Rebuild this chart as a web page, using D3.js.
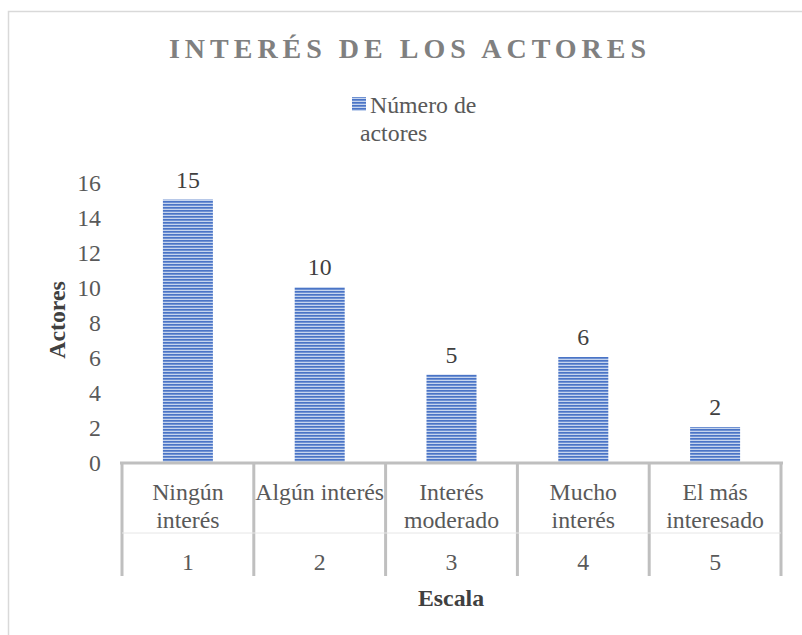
<!DOCTYPE html>
<html><head><meta charset="utf-8">
<script src="https://cdn.jsdelivr.net/npm/d3@7"></script>
<style>body{margin:0;background:#fff}svg{display:block}</style>
</head><body>
<script>
const categories = ["Ningún interés","Algún interés","Interés moderado","Mucho interés","El más interesado"];
const catLines = [["Ningún","interés"],["Algún interés"],["Interés","moderado"],["Mucho","interés"],["El más","interesado"]];
const scaleLabels = ["1","2","3","4","5"];
const values = [15,10,5,6,2];
const yTicks = [0,2,4,6,8,10,12,14,16];
const seriesName = ["Número de","actores"];

const W=802,H=635;
const FF='"Liberation Serif", "Times New Roman", serif';
const FS=23.8;
const svg=d3.select("body").append("svg").attr("width",W).attr("height",H);
const defs=svg.append("defs");
const pat=defs.append("pattern").attr("id","stripe").attr("patternUnits","userSpaceOnUse").attr("width",6).attr("height",3);
pat.append("rect").attr("width",6).attr("height",3).attr("fill","#c5d4ee");
pat.append("rect").attr("y",0).attr("width",6).attr("height",1.7).attr("fill","#4a74c6");

// frame
svg.append("path").attr("d","M8.5,635 V11.5 H802").attr("fill","none").attr("stroke","#d9d9d9").attr("stroke-width",1.5);

const x0=122,x1=781,yTop=182,yBot=462;
const x=d3.scaleBand().domain(categories).range([x0,x1]);
const y=d3.scaleLinear().domain([0,16]).range([yBot,yTop]);
const bw=50;

function T(sel){return sel.style("font-family",FF);}

T(svg.append("text")).attr("x",410).attr("y",58).attr("text-anchor","middle")
 .attr("font-weight","bold").attr("font-size",28).attr("letter-spacing",5)
 .attr("fill","#808080").text("INTERÉS DE LOS ACTORES");

// legend
svg.append("rect").attr("x",352).attr("y",97).attr("width",14).attr("height",14).attr("fill","url(#stripe)");
T(svg.append("text")).attr("font-size",FS).attr("fill","#595959")
 .selectAll("tspan").data(seriesName).join("tspan").attr("x",d=>d==="actores"?360:370).attr("y",(d,i)=>113+i*28).text(d=>d);

// y axis labels
const ya=svg.append("g").attr("transform",`translate(101,0)`).call(d3.axisLeft(y).tickValues(yTicks).tickSize(0).tickPadding(0));
ya.select(".domain").remove();
ya.attr("font-family",null).attr("font-size",null);
T(ya.selectAll("text")).attr("font-size",FS).attr("fill","#595959").attr("dy","0.35em");

T(svg.append("text")).attr("transform","translate(65,320) rotate(-90)").attr("text-anchor","middle")
 .attr("font-weight","bold").attr("font-size",FS).attr("fill","#404040").text("Actores");

// bars
svg.selectAll("rect.bar").data(values).join("rect").attr("class","bar")
 .attr("x",(d,i)=>x(categories[i])+x.bandwidth()/2-bw/2).attr("width",bw)
 .attr("y",d=>y(d)).attr("height",d=>yBot-y(d)).attr("fill","url(#stripe)");
T(svg.selectAll("text.lbl").data(values).join("text").attr("class","lbl"))
 .attr("x",(d,i)=>x(categories[i])+x.bandwidth()/2).attr("y",d=>y(d)-12)
 .attr("text-anchor","middle").attr("font-size",FS).attr("fill","#404040").text(d=>d);

// x axis
const axc="#bfbfbf";
svg.append("line").attr("x1",x0-2).attr("x2",x1+2).attr("y1",yBot+1).attr("y2",yBot+1).attr("stroke",axc).attr("stroke-width",3);
const edges=categories.map(c=>x(c)).concat([x1]);
svg.selectAll("line.div").data(edges).join("line").attr("class","div")
 .attr("x1",d=>d).attr("x2",d=>d).attr("y1",yBot).attr("y2",576).attr("stroke",axc).attr("stroke-width",3);
svg.append("line").attr("x1",x0).attr("x2",x1).attr("y1",533).attr("y2",533).attr("stroke","#e6e6e6").attr("stroke-width",1);

catLines.forEach((lines,i)=>{
  const cx=x(categories[i])+x.bandwidth()/2;
  const t=T(svg.append("text")).attr("text-anchor","middle").attr("font-size",FS).attr("fill","#595959");
  lines.forEach((l,j)=>t.append("tspan").attr("x",cx).attr("y",500+j*28).text(l));
  T(svg.append("text")).attr("x",cx).attr("y",570).attr("text-anchor","middle").attr("font-size",FS).attr("fill","#595959").text(scaleLabels[i]);
});

T(svg.append("text")).attr("x",451).attr("y",606).attr("text-anchor","middle")
 .attr("font-weight","bold").attr("font-size",FS).attr("fill","#404040").text("Escala");
</script>
</body></html>
